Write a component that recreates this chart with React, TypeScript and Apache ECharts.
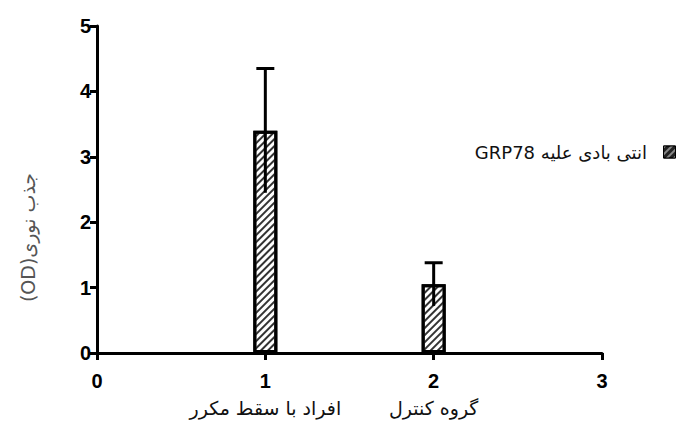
import React, { useEffect, useRef } from "react";
import * as echarts from "echarts";

const xPositions = [1, 2];
const categoryNames = ["افراد با سقط مکرر", "گروه کنترل"];
const barValues = [3.4, 1.05];
const errorValues = [0.95, 0.33];
const seriesName = "انتی بادی علیه GRP78";
const yAxisTitle = "جذب نوری(OD)";

const rtl = (s: string) => "\u202B" + s + "\u202C";

export default function App() {
  const ref = useRef<HTMLDivElement>(null);
  useEffect(() => {
    if (!ref.current) return;
    const chart = echarts.init(ref.current, null, { renderer: "svg" });
    const barData = xPositions.map((x, i) => [x, barValues[i]]);
    const errData = xPositions.map((x, i) => [x, barValues[i], errorValues[i]]);
    const decal = {
      symbol: "rect",
      symbolSize: 1,
      color: "#333",
      backgroundColor: "#fff",
      dashArrayX: [1, 0],
      dashArrayY: [1.6, 2.8],
      rotation: -Math.PI / 4,
    };
    chart.setOption({
      animation: false,
      grid: { left: 89, right: 83, top: 18, bottom: 73 },
      legend: {
        right: 4,
        top: 130,
        align: "right",
        itemWidth: 12,
        itemHeight: 12,
        formatter: (n: string) => rtl(n) + "\u00A0\u00A0",
        textStyle: { fontFamily: "DejaVu Sans, sans-serif", fontSize: 18, color: "#111" },
        data: [{ name: seriesName, icon: "rect", itemStyle: { color: "#222", borderColor: "#000", borderWidth: 1, decal: { ...decal, color: "#888", backgroundColor: "#111" } } }],
      },
      xAxis: {
        type: "value",
        min: 0,
        max: 3,
        interval: 1,
        splitLine: { show: false },
        axisLine: { show: true, onZero: false, lineStyle: { color: "#000", width: 3 } },
        axisTick: { show: true, length: 7, lineStyle: { color: "#000", width: 3 } },
        axisLabel: {
          margin: 17,
          formatter: (v: number) => {
            const name = categoryNames[xPositions.indexOf(v)];
            return name ? `{n|${v}}\n{c|${rtl(name)}}` : `{n|${v}}`;
          },
          rich: {
            n: { fontFamily: "Liberation Sans, Arial, sans-serif", fontWeight: "bold", fontSize: 20, color: "#000", lineHeight: 22 },
            c: { fontFamily: "DejaVu Sans, sans-serif", fontSize: 19, color: "#111", lineHeight: 32 },
          },
        },
      },
      yAxis: {
        type: "value",
        min: 0,
        max: 5,
        interval: 1,
        name: rtl(yAxisTitle),
        nameLocation: "middle",
        nameRotate: 90,
        nameGap: 60,
        nameTextStyle: { fontFamily: "DejaVu Sans, sans-serif", fontSize: 19, color: "#555", padding: [0, 96, 0, 0] },
        splitLine: { show: false },
        axisLine: { show: true, lineStyle: { color: "#000", width: 3 } },
        axisTick: { show: true, length: 7, lineStyle: { color: "#000", width: 3 } },
        axisLabel: {
          margin: 6,
          fontFamily: "Liberation Sans, Arial, sans-serif",
          fontWeight: "bold",
          fontSize: 20,
          color: "#000",
        },
      },
      series: [
        {
          name: seriesName,
          type: "bar",
          data: barData,
          barWidth: 24,
          itemStyle: { color: "#fff", borderColor: "#000", borderWidth: 3, decal },
          z: 2,
        },
        {
          type: "custom",
          data: errData,
          z: 5,
          renderItem: (params: any, api: any) => {
            const x = api.value(0);
            const y = api.value(1);
            const e = api.value(2);
            const top = api.coord([x, y + e]);
            const bot = api.coord([x, y - e]);
            const style = { stroke: "#000", lineWidth: 3 };
            return {
              type: "group",
              children: [
                { type: "line", shape: { x1: top[0], y1: top[1], x2: bot[0], y2: bot[1] }, style },
                { type: "line", shape: { x1: top[0] - 9, y1: top[1], x2: top[0] + 9, y2: top[1] }, style },
              ],
            };
          },
        },
      ],
    });
    return () => chart.dispose();
  }, []);
  return <div ref={ref} style={{ width: 677, height: 418 }} />;
}
